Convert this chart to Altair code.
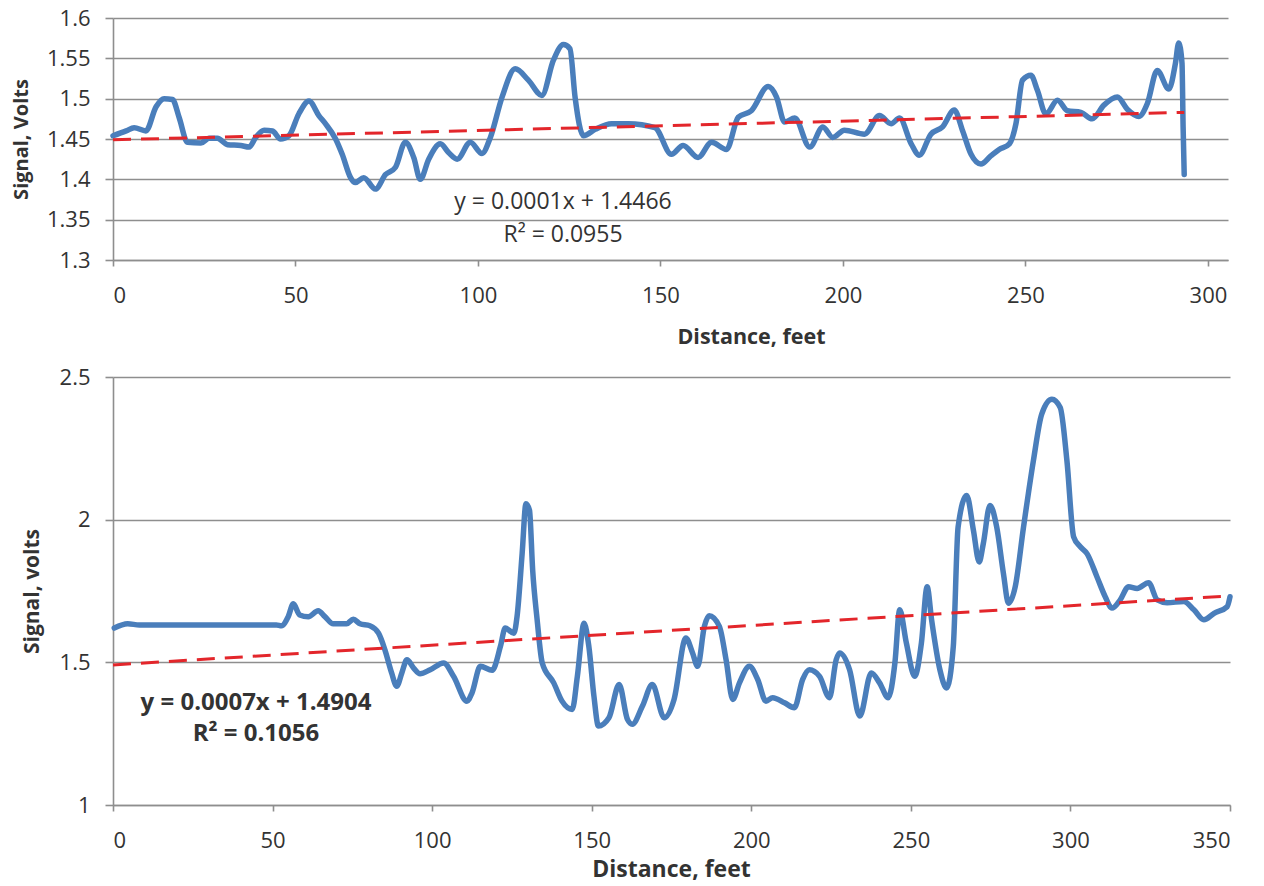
import altair as alt
import pandas as pd

# ---------------- data ----------------
top_dist = [0, 3.6, 5.8, 9.0, 11.8, 14.0, 16.3, 18.1, 20.4, 24.1, 26.3, 28.6, 31.4, 35.0, 37.3,
            39.1, 41.4, 43.7, 45.9, 48.2, 50.9, 53.7, 56.4, 58.2, 61.0, 62.8, 65.1, 66.4, 68.7,
            71.9, 74.7, 77.4, 80.1, 82.4, 84.2, 86.5, 89.7, 92.0, 94.3, 97.9, 101.1, 103.4,
            106.6, 110.2, 113.8, 117.5, 120.7, 123.4, 125.2, 126.6, 128.9, 132.1, 136.6, 141.2,
            148.5, 153.0, 156.2, 160.3, 164.0, 168.1, 171.3, 174.9, 179.5, 181.8, 184.0, 186.8,
            190.9, 194.5, 197.2, 200.4, 205.9, 210.0, 213.2, 215.5, 218.7, 220.9, 224.1, 227.3,
            230.5, 232.8, 235.1, 237.8, 240.5, 242.8, 245.6, 247.4, 249.2, 251.5, 253.3, 255.6,
            258.8, 261.5, 265.2, 268.3, 271.5, 275.2, 277.9, 281.1, 283.4, 286.1, 289.3, 291.1,
            292.0, 292.9, 293.2, 293.5]
top_sig = [1.454, 1.460, 1.464, 1.460, 1.490, 1.500, 1.499, 1.477, 1.446, 1.445, 1.451, 1.451,
           1.443, 1.442, 1.440, 1.452, 1.461, 1.460, 1.450, 1.454, 1.481, 1.497, 1.479, 1.469,
           1.450, 1.431, 1.402, 1.396, 1.402, 1.388, 1.406, 1.415, 1.446, 1.427, 1.400, 1.425,
           1.444, 1.433, 1.425, 1.446, 1.432, 1.452, 1.502, 1.537, 1.523, 1.504, 1.548, 1.567,
           1.562, 1.502, 1.454, 1.462, 1.469, 1.469, 1.464, 1.431, 1.442, 1.427, 1.446, 1.437,
           1.477, 1.485, 1.515, 1.502, 1.471, 1.476, 1.440, 1.465, 1.452, 1.461, 1.456, 1.479,
           1.469, 1.476, 1.444, 1.430, 1.456, 1.465, 1.486, 1.460, 1.431, 1.419, 1.429, 1.437,
           1.444, 1.469, 1.523, 1.529, 1.510, 1.481, 1.498, 1.485, 1.483, 1.475, 1.492, 1.502,
           1.487, 1.478, 1.494, 1.535, 1.512, 1.544, 1.569, 1.544, 1.465, 1.406]

bot_dist = [0.4, 4.6, 8.3, 51.2, 52.8, 54.9, 56.5, 58.5, 61.2, 64.3, 66.4, 69.0, 73.2, 75.3,
            77.4, 80.5, 83.2, 85.2, 87.3, 88.9, 90.5, 92.1, 94.2, 96.2, 99.4, 103.6, 106.7,
            110.9, 112.5, 115.1, 118.8, 121.4, 122.9, 125.6, 126.6, 128.2, 129.4, 130.5, 131.5,
            132.9, 134.5, 138.1, 140.7, 143.9, 145.5, 147.6, 149.1, 150.7, 152.1, 155.4, 158.6,
            161.2, 162.7, 165.9, 169.0, 172.7, 175.8, 179.5, 181.6, 183.2, 185.3, 186.8, 190.0,
            192.1, 194.2, 196.3, 199.4, 202.0, 204.6, 206.7, 210.4, 213.5, 216.1, 218.2, 221.4,
            224.5, 226.6, 227.7, 230.8, 234.0, 237.6, 240.2, 242.9, 245.0, 246.5, 248.6, 251.2,
            253.3, 255.1, 256.5, 259.1, 261.2, 263.3, 264.8, 267.5, 269.6, 271.4, 272.7, 274.8,
            276.9, 279.0, 280.6, 282.7, 285.3, 288.4, 291.0, 294.2, 296.8, 298.9, 301.0, 303.1,
            305.2, 308.3, 310.9, 313.0, 315.6, 318.2, 320.9, 324.5, 327.2, 330.3, 335.5, 338.7,
            341.8, 345.0, 349.1, 350.0]
bot_sig = [1.620, 1.635, 1.631, 1.631, 1.628, 1.660, 1.705, 1.666, 1.660, 1.681, 1.660, 1.635,
           1.635, 1.651, 1.635, 1.628, 1.602, 1.544, 1.463, 1.416, 1.463, 1.509, 1.480, 1.460,
           1.474, 1.498, 1.451, 1.364, 1.393, 1.486, 1.472, 1.556, 1.620, 1.602, 1.660, 1.881,
           2.056, 2.033, 1.823, 1.649, 1.498, 1.428, 1.364, 1.335, 1.451, 1.637, 1.556, 1.381,
           1.277, 1.306, 1.422, 1.300, 1.283, 1.347, 1.422, 1.306, 1.370, 1.585, 1.533, 1.486,
           1.626, 1.663, 1.626, 1.509, 1.370, 1.428, 1.486, 1.440, 1.364, 1.376, 1.358, 1.341,
           1.440, 1.474, 1.451, 1.376, 1.509, 1.533, 1.474, 1.312, 1.463, 1.428, 1.376, 1.498,
           1.684, 1.567, 1.451, 1.567, 1.765, 1.649, 1.474, 1.410, 1.556, 1.974, 2.085, 1.963,
           1.852, 1.916, 2.050, 1.974, 1.812, 1.707, 1.765, 1.974, 2.207, 2.370, 2.422, 2.393,
           2.207, 1.940, 1.905, 1.881, 1.800, 1.730, 1.690, 1.719, 1.765, 1.759, 1.779, 1.719,
           1.709, 1.713, 1.684, 1.649, 1.672, 1.695, 1.730]

top_trend_dist = [0, 293.5]
top_trend_sig = [1.449, 1.483]
bot_trend_dist = [0, 350]
bot_trend_sig = [1.491, 1.733]

top_eq_text = ["y = 0.0001x + 1.4466", "R\u00b2 = 0.0955"]
top_eq_dist = [123.3, 123.3]
top_eq_sig = [1.372, 1.331]
bot_eq_text = ["y = 0.0007x + 1.4904", "R\u00b2 = 0.1056"]
bot_eq_dist = [44.8, 44.8]
bot_eq_sig = [1.357, 1.250]

top_x_ticks = [0, 50, 100, 150, 200, 250, 300]
top_y_ticks = [1.3, 1.35, 1.4, 1.45, 1.5, 1.55, 1.6]
bot_x_ticks = [0, 50, 100, 150, 200, 250, 300, 350]
bot_y_ticks = [1, 1.5, 2, 2.5]

# ---------------- styling ----------------
FONT = "Open Sans"
BLUE = "#4A7EBB"
RED = "#E3262B"
GRID = "#8E8E8E"
TXT = "#333333"


def panel(dist, sig, tdist, tsig, etext, edist, esig, xdom, xticks, ydom, yticks,
          ytitle, w, h, fs, xtfs, ytfs, efs, eq_bold, xtitle_x, xtitle_y, ytitle_x,
          xlabpad):
    df = pd.DataFrame({"d": dist, "s": sig})
    tr = pd.DataFrame({"d": tdist, "s": tsig})
    eq = pd.DataFrame({"d": edist, "s": esig, "t": etext})
    xs = alt.Scale(domain=xdom, nice=False, zero=False)
    ys = alt.Scale(domain=ydom, nice=False, zero=False)
    xax = alt.Axis(values=xticks, title="Distance, feet", grid=False, labelFontSize=fs,
                   titleFontSize=xtfs, tickSize=6, labelPadding=xlabpad, titleX=xtitle_x,
                   titleY=xtitle_y, titleBaseline="middle", titleAlign="center")
    yax = alt.Axis(values=yticks, title=ytitle, grid=True, format="~g", labelFontSize=fs,
                   titleFontSize=ytfs, tickSize=8, labelPadding=15, titleX=ytitle_x,
                   titleBaseline="middle")
    line = alt.Chart(df).mark_line(color=BLUE, strokeWidth=5.5, interpolate="monotone",
                                   strokeJoin="round", strokeCap="round").encode(
        x=alt.X("d:Q", scale=xs, axis=xax),
        y=alt.Y("s:Q", scale=ys, axis=yax),
        order="d:Q",
    )
    trend = alt.Chart(tr).mark_line(color=RED, strokeWidth=3, strokeDash=[18, 10]).encode(
        x=alt.X("d:Q", scale=xs), y=alt.Y("s:Q", scale=ys))
    text = alt.Chart(eq).mark_text(font=FONT, fontSize=efs, color=TXT,
                                   fontWeight="bold" if eq_bold else "normal",
                                   align="center", baseline="middle").encode(
        x=alt.X("d:Q", scale=xs), y=alt.Y("s:Q", scale=ys), text="t:N")
    return alt.layer(line, trend, text).properties(width=w, height=h)


top = panel(top_dist, top_sig, top_trend_dist, top_trend_sig, top_eq_text, top_eq_dist,
            top_eq_sig, [0, 305.5], top_x_ticks, [1.3, 1.6], top_y_ticks, "Signal, Volts",
            1115, 242, 22, 21.5, 20, 23, False, 638, 77, -92, 19)
bot = panel(bot_dist, bot_sig, bot_trend_dist, bot_trend_sig, bot_eq_text, bot_eq_dist,
            bot_eq_sig, [0, 350], bot_x_ticks, [1, 2.5], bot_y_ticks, "Signal, volts",
            1117, 428, 22, 23, 21, 24, True, 558, 64, -81, 19)

chart = alt.vconcat(top, bot, spacing=18).properties(
    padding={"left": 10, "top": 7, "right": 10, "bottom": 4},
    background="white",
).configure_view(stroke=None).configure_axis(
    labelFont=FONT, titleFont=FONT, labelColor=TXT, titleColor=TXT, titleFontWeight="bold",
    domainColor=GRID, tickColor=GRID, gridColor=GRID, gridWidth=1.6, domainWidth=1.6,
    tickWidth=1.6,
)

chart.save("out.html", embed_options={"renderer": "svg", "actions": False})
